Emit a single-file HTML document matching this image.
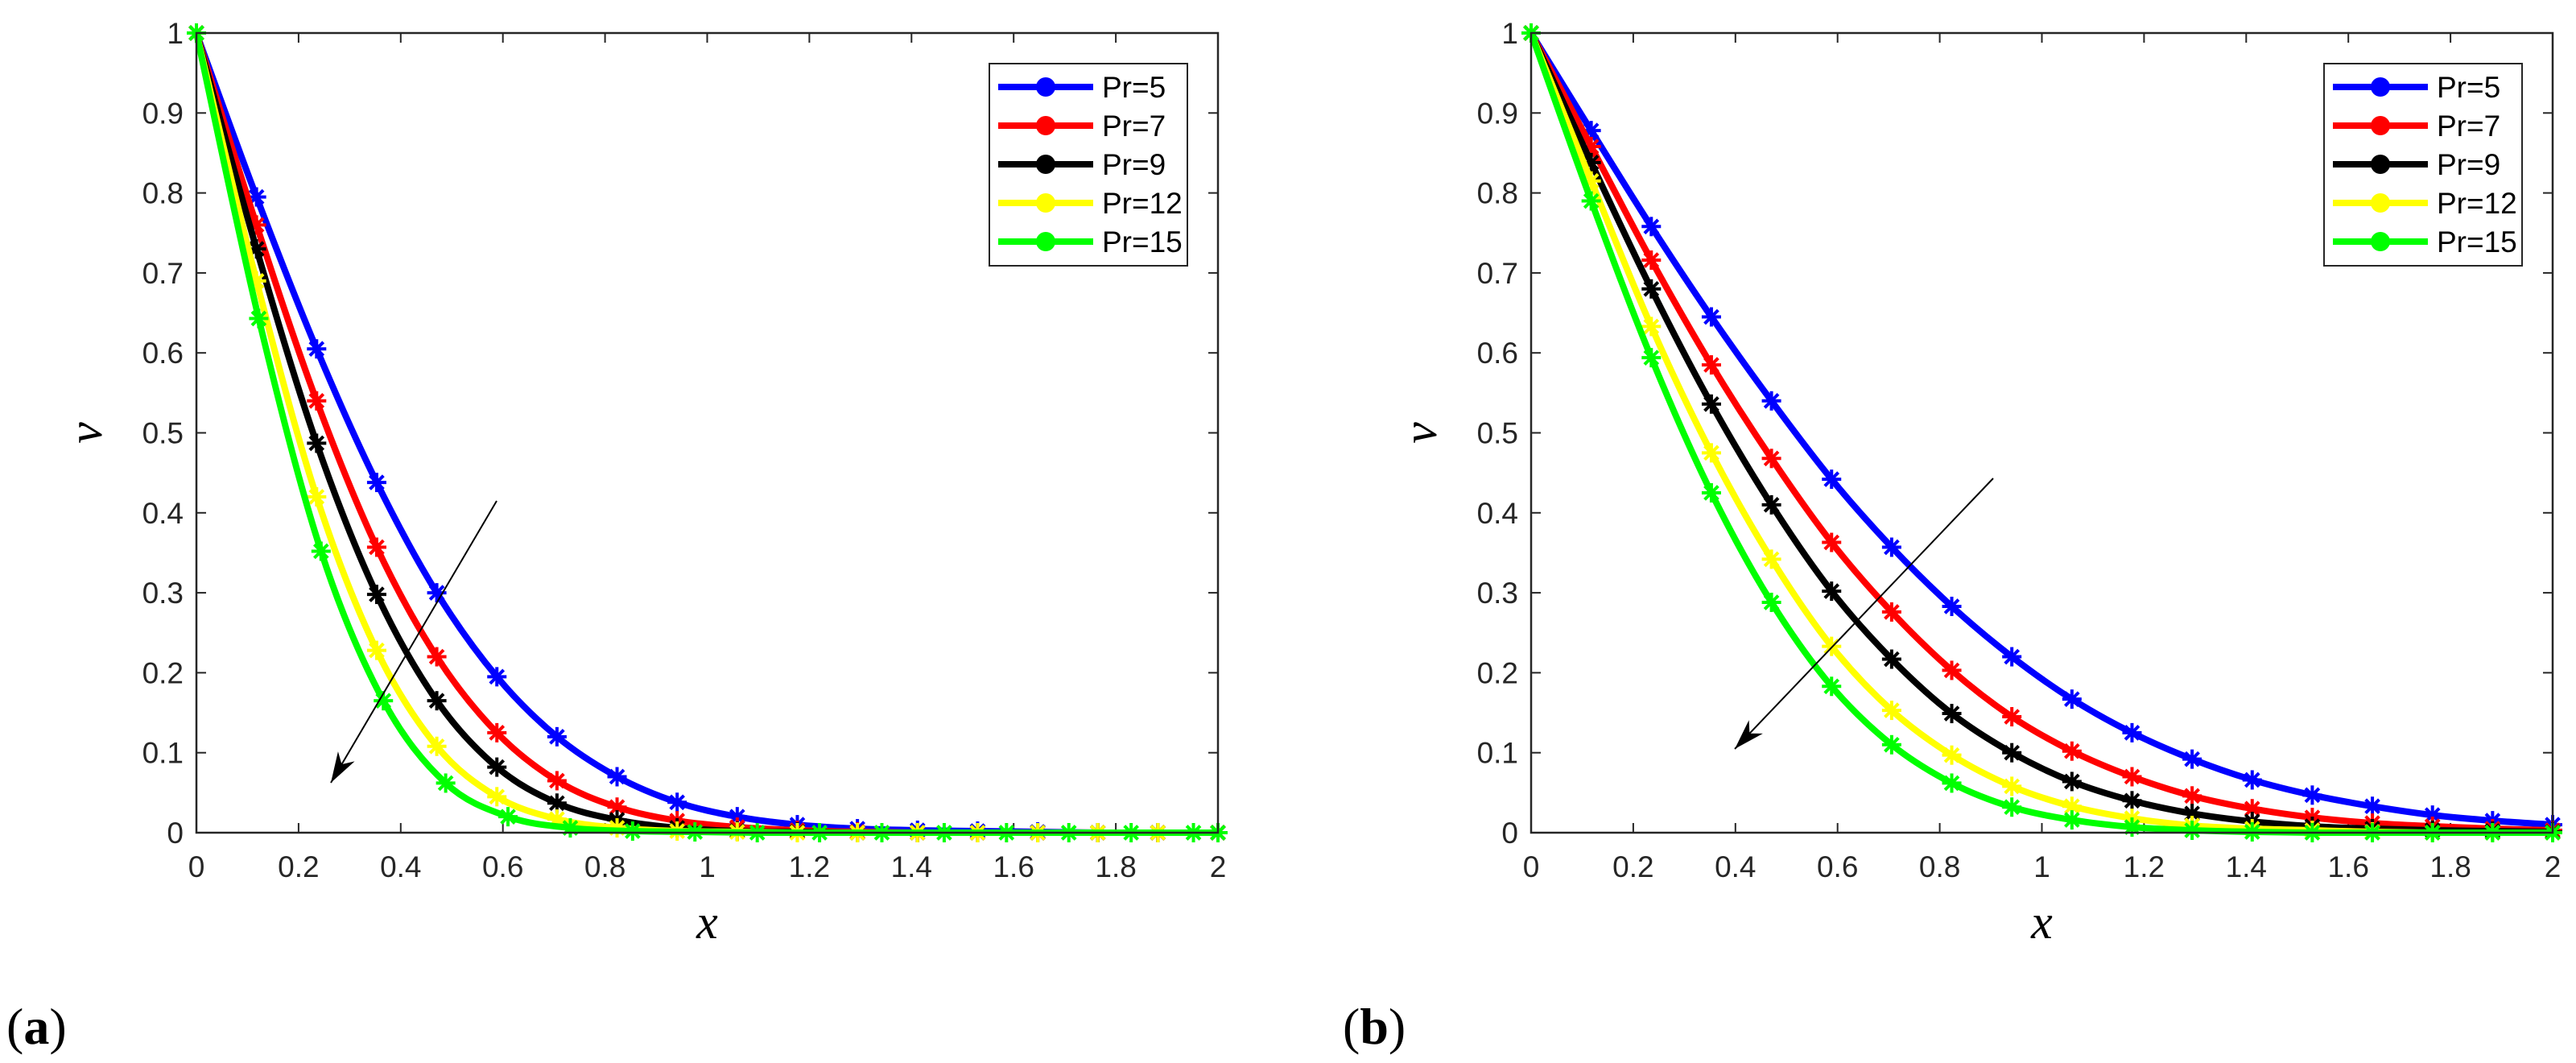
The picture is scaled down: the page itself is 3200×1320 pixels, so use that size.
<!DOCTYPE html>
<html><head><meta charset="utf-8"><style>
html,body{margin:0;padding:0;background:#fff;}
svg{display:block;}
</style></head><body>
<svg id="fig" width="3200" height="1320" viewBox="0 0 3200 1320" xmlns="http://www.w3.org/2000/svg"></svg>
<script>
const xTicks=[0,0.2,0.4,0.6,0.8,1,1.2,1.4,1.6,1.8,2];
const xTickLabels=["0","0.2","0.4","0.6","0.8","1","1.2","1.4","1.6","1.8","2"];
const yTicks=[0,0.1,0.2,0.3,0.4,0.5,0.6,0.7,0.8,0.9,1];
const yTickLabels=["0","0.1","0.2","0.3","0.4","0.5","0.6","0.7","0.8","0.9","1"];
const seriesNames=["Pr=5","Pr=7","Pr=9","Pr=12","Pr=15"];
const seriesColors=["#0000ff","#ff0000","#000000","#ffff00","#00ff00"];
const markerStep=2/17;
const greenStepA=0.122;
const a_pr5=[1,.795,.605,.438,.30,.195,.12,.07,.038,.02,.01,.005,.003,.002,.001,0,0,0];
const a_pr7=[1,.76,.54,.357,.22,.125,.065,.032,.015,.007,.003,.001,0,0,0,0,0,0];
const a_pr9=[1,.73,.487,.298,.165,.082,.037,.016,.006,.002,.001,0,0,0,0,0,0,0];
const a_pr12=[1,.69,.42,.228,.108,.045,.017,.006,.002,.001,0,0,0,0,0,0,0,0];
const a_pr15=[1,.643,.352,.165,.062,.02,.006,.002,.001,0,0,0,0,0,0,0,0,0];
const b_pr5=[1,.878,.758,.645,.54,.442,.357,.283,.22,.167,.125,.092,.066,.047,.033,.022,.015,.01];
const b_pr7=[1,.858,.716,.585,.468,.363,.276,.203,.145,.102,.07,.046,.03,.019,.012,.008,.005,.003];
const b_pr9=[1,.838,.68,.536,.41,.302,.217,.149,.10,.064,.04,.024,.014,.008,.005,.003,.002,.001];
const b_pr12=[1,.815,.633,.475,.342,.233,.153,.097,.058,.033,.018,.009,.005,.003,.001,0,0,0];
const b_pr15=[1,.79,.594,.425,.288,.183,.11,.062,.032,.016,.007,.003,.001,0,0,0,0,0];

const NS="http://www.w3.org/2000/svg";
const svg=document.getElementById('fig');
function mk(tag,attrs,parent){const e=document.createElementNS(NS,tag);for(const k in attrs)e.setAttribute(k,attrs[k]);(parent||svg).appendChild(e);return e;}

function drawPanel(L,key,data,steps,arrow,label,labelX){
  const R=L+1269,T=41,B=1034;
  const g=mk('g',{});
  
  
  const xs=v=>L+(v/2)*(R-L);
  const ys=v=>B-v*(B-T);
  xTicks.forEach((t,i)=>{
    const x=xs(t);
    mk('line',{x1:x,y1:B,x2:x,y2:B-12,stroke:'#262626','stroke-width':2},g);
    mk('line',{x1:x,y1:T,x2:x,y2:T+12,stroke:'#262626','stroke-width':2},g);
    const tx=mk('text',{x:x,y:B+55,'text-anchor':'middle','font-family':'Liberation Sans, sans-serif','font-size':37,fill:'#262626'},g);
    
    
    tx.textContent=xTickLabels[i];
  });
  yTicks.forEach((t,i)=>{
    const y=ys(t);
    mk('line',{x1:L,y1:y,x2:L+12,y2:y,stroke:'#262626','stroke-width':2},g);
    mk('line',{x1:R,y1:y,x2:R-12,y2:y,stroke:'#262626','stroke-width':2},g);
    const ty=mk('text',{x:L-16,y:y+13,'text-anchor':'end','font-family':'Liberation Sans, sans-serif','font-size':37,fill:'#262626'},g);
    
    
    ty.textContent=yTickLabels[i];
  });
  data.forEach((vals,si)=>{
    const st=steps[si];
    const pts=vals.map((v,i)=>[xs(Math.min(2,i*st)),ys(v)]);
    let d='M'+pts[0][0]+','+pts[0][1];
    for(let i=0;i<pts.length-1;i++){
      const p0=pts[Math.max(0,i-1)],p1=pts[i],p2=pts[i+1],p3=pts[Math.min(pts.length-1,i+2)];
      let c1y=p1[1]+(p2[1]-p0[1])/6, c2y=p2[1]-(p3[1]-p1[1])/6;
      c1y=Math.min(B,c1y);c2y=Math.min(B,c2y);
      d+=' C'+(p1[0]+(p2[0]-p0[0])/6)+','+c1y+' '+(p2[0]-(p3[0]-p1[0])/6)+','+c2y+' '+p2[0]+','+p2[1];
    }
    if(pts[pts.length-1][0]<R) d+=' L'+R+','+pts[pts.length-1][1];
    const path=mk('path',{d:d,fill:'none',stroke:seriesColors[si],'stroke-width':8,'stroke-linejoin':'round'},g);
    
    
    pts.forEach(p=>{
      const m=mk('g',{stroke:seriesColors[si],'stroke-width':4},g);
      
      
      const r=12;
      mk('line',{x1:p[0]-r,y1:p[1],x2:p[0]+r,y2:p[1]},m);
      mk('line',{x1:p[0],y1:p[1]-r,x2:p[0],y2:p[1]+r},m);
      mk('line',{x1:p[0]-r*.7,y1:p[1]-r*.7,x2:p[0]+r*.7,y2:p[1]+r*.7},m);
      mk('line',{x1:p[0]-r*.7,y1:p[1]+r*.7,x2:p[0]+r*.7,y2:p[1]-r*.7},m);
    });
  });
  mk('rect',{x:L,y:T,width:R-L,height:B-T,fill:'none',stroke:'#262626','stroke-width':2.5},g);
  const [ax1,ay1,ax2,ay2]=arrow;
  const ar=mk('g',{},g);
  
  
  mk('line',{x1:ax1,y1:ay1,x2:ax2,y2:ay2,stroke:'#000','stroke-width':2},ar);
  const ang=Math.atan2(ay2-ay1,ax2-ax1),hl=38,hw=12;
  const bx=ax2-hl*Math.cos(ang),by=ay2-hl*Math.sin(ang);
  const nx=-Math.sin(ang),ny=Math.cos(ang);
  mk('polygon',{points:`${ax2},${ay2} ${bx+nx*hw},${by+ny*hw} ${ax2-hl*0.7*Math.cos(ang)},${ay2-hl*0.7*Math.sin(ang)} ${bx-nx*hw},${by-ny*hw}`,fill:'#000'},ar);
  const xl=mk('text',{x:(L+R)/2,y:1165,'text-anchor':'middle','font-family':'Liberation Serif, serif','font-style':'italic','font-size':60,fill:'#000'},g);
  
  
  xl.textContent='x';
  const yl=mk('text',{x:0,y:0,'text-anchor':'middle','font-family':'Liberation Serif, serif','font-style':'italic','font-size':60,fill:'#000',transform:`translate(${L-118},${(T+B)/2}) rotate(-90)`},g);
  
  
  yl.textContent='v';
  const LX=L+985,LY=79;
  const lg=mk('g',{},g);
  
  
  mk('rect',{x:LX,y:LY,width:246,height:251,fill:'#fff',stroke:'#262626','stroke-width':2},lg);
  seriesNames.forEach((n,i)=>{
    const y=108+i*48;
    const en=mk('g',{},lg);
    
    
    mk('line',{x1:LX+11,y1:y,x2:LX+129,y2:y,stroke:seriesColors[i],'stroke-width':8},en);
    mk('circle',{cx:LX+70,cy:y,r:12,fill:seriesColors[i]},en);
    const t=mk('text',{x:LX+140,y:y+13,'font-family':'Liberation Sans, sans-serif','font-size':37,fill:'#000'},en);
    t.textContent=n;
  });
  const pl=mk('text',{x:labelX,y:1296,'font-family':'Liberation Serif, serif','font-size':64,fill:'#000'},g);
  
  
  pl.innerHTML='(<tspan font-weight="bold">'+label+'</tspan>)';
}
drawPanel(244,'a',[a_pr5,a_pr7,a_pr9,a_pr12,a_pr15],[markerStep,markerStep,markerStep,markerStep,greenStepA],[617,622,411,972],'a',8);
drawPanel(1902,'b',[b_pr5,b_pr7,b_pr9,b_pr12,b_pr15],[markerStep,markerStep,markerStep,markerStep,markerStep],[2476,594,2155,930],'b',1668);
</script>
</body></html>
